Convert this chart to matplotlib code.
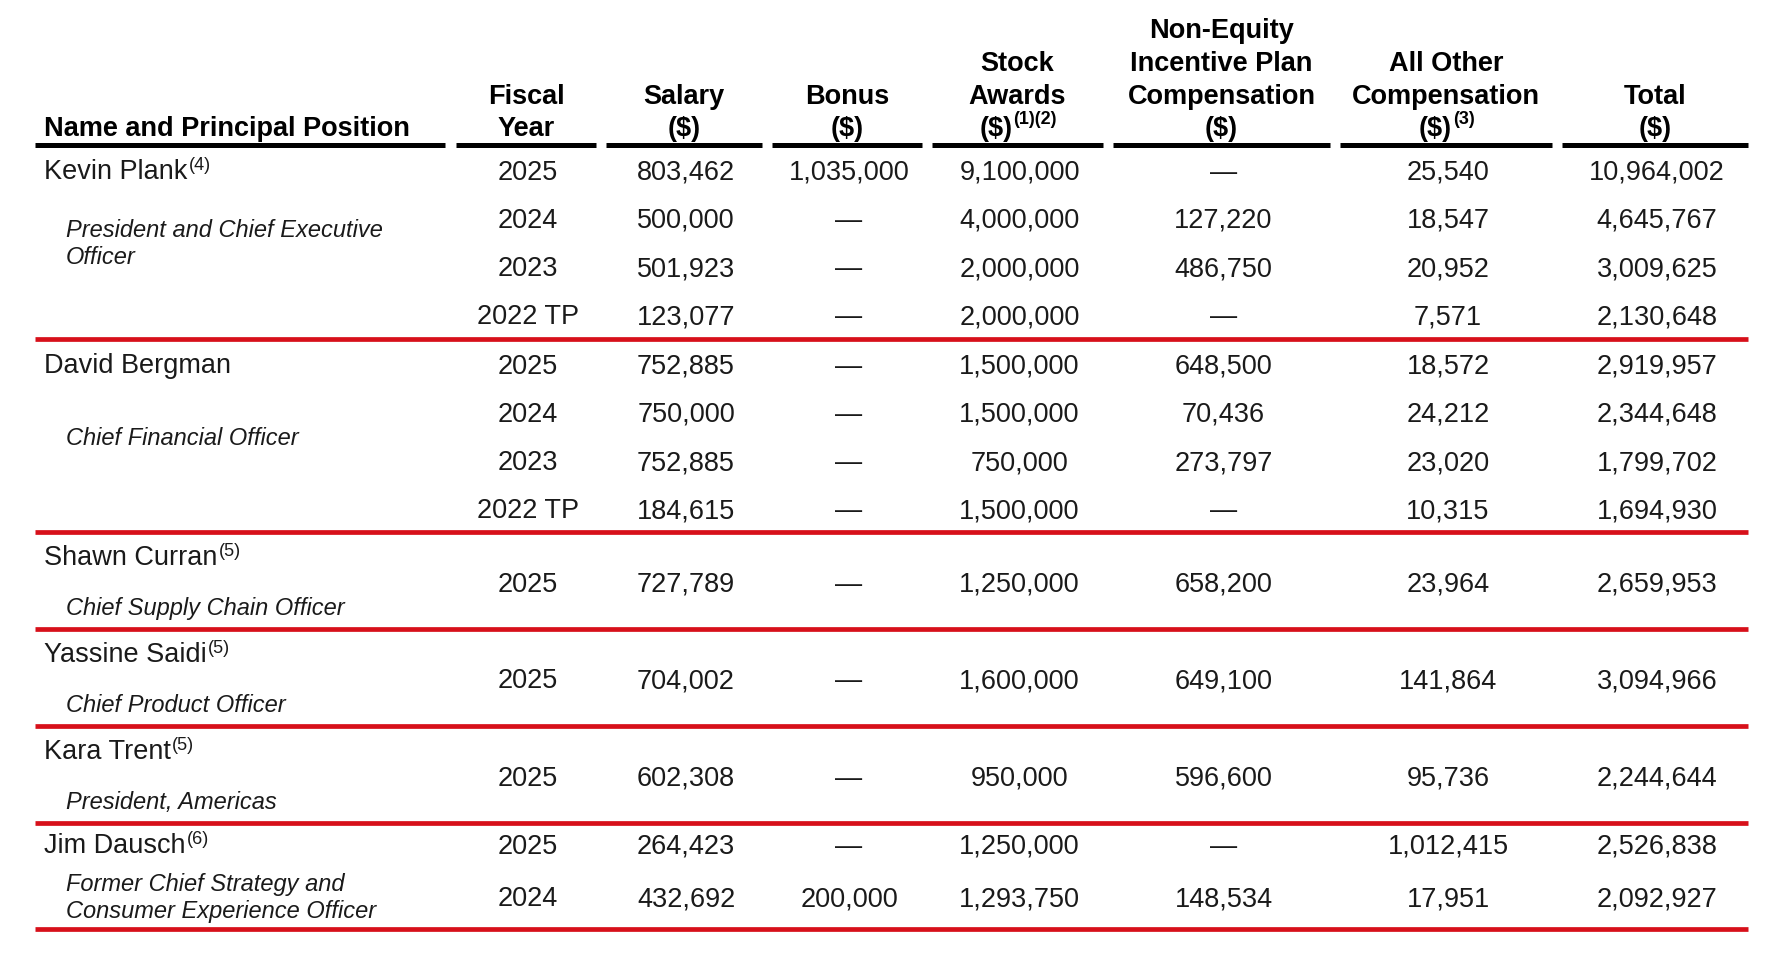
import matplotlib
matplotlib.use('Agg')
import matplotlib.pyplot as plt

plt.rcParams['font.family'] = ['Liberation Sans', 'DejaVu Sans']

# ---- table content ----
names = ['Kevin Plank', 'David Bergman', 'Shawn Curran', 'Yassine Saidi', 'Kara Trent', 'Jim Dausch']
name_notes = ['(4)', '', '(5)', '(5)', '(5)', '(6)']
titles = [['President and Chief Executive', 'Officer'],
          ['Chief Financial Officer'],
          ['Chief Supply Chain Officer'],
          ['Chief Product Officer'],
          ['President, Americas'],
          ['Former Chief Strategy and', 'Consumer Experience Officer']]
rows_per_person = [4, 4, 1, 1, 1, 2]

fiscal_year = ['2025', '2024', '2023', '2022 TP',
               '2025', '2024', '2023', '2022 TP',
               '2025', '2025', '2025', '2025', '2024']
salary = [803462, 500000, 501923, 123077, 752885, 750000, 752885, 184615,
          727789, 704002, 602308, 264423, 432692]
bonus = [1035000, None, None, None, None, None, None, None,
         None, None, None, None, 200000]
stock_awards = [9100000, 4000000, 2000000, 2000000, 1500000, 1500000, 750000, 1500000,
                1250000, 1600000, 950000, 1250000, 1293750]
non_equity = [None, 127220, 486750, None, 648500, 70436, 273797, None,
              658200, 649100, 596600, None, 148534]
all_other = [25540, 18547, 20952, 7571, 18572, 24212, 23020, 10315,
             23964, 141864, 95736, 1012415, 17951]
total = [10964002, 4645767, 3009625, 2130648, 2919957, 2344648, 1799702, 1694930,
         2659953, 3094966, 2244644, 2526838, 2092927]

name_header = 'Name and Principal Position'
col_headers = [['Fiscal', 'Year'], ['Salary', '($)'], ['Bonus', '($)'],
               ['Stock', 'Awards', '($)'],
               ['Non-Equity', 'Incentive Plan', 'Compensation', '($)'],
               ['All Other', 'Compensation', '($)'], ['Total', '($)']]
col_notes = ['', '', '', '(1)(2)', '', '(3)', '']

# ---- layout (pixels) ----
W, H = 1776, 964
col_spans = [(35, 445), (456, 596), (606, 762), (772, 922), (932, 1103),
             (1113, 1330), (1340, 1552), (1562, 1748)]
rule_y = 145
block_heights = [194, 193, 97, 97, 97, 106]
RED = '#D7101A'
INK = '#1a1a1a'

FS_HEAD, FS_DATA, FS_TITLE, FS_SUP = 19.5, 19.5, 17, 13

fig = plt.figure(figsize=(W / 100, H / 100), dpi=100)
ax = fig.add_axes([0, 0, 1, 1])
ax.set_xlim(0, W)
ax.set_ylim(H, 0)
ax.axis('off')
renderer = fig.canvas.get_renderer()


def with_note(x, y, main, note, ha, main_kw, note_kw, lift):
    t = ax.text(x, y, main, ha='left', va='baseline', **main_kw)
    if not note:
        if ha == 'center':
            t.set_ha('center')
        return
    s = ax.text(x, y - lift, note, ha='left', va='baseline', **note_kw)
    w1 = t.get_window_extent(renderer).width
    w2 = s.get_window_extent(renderer).width
    x0 = x - (w1 + w2) / 2 if ha == 'center' else x
    t.set_x(x0)
    s.set_x(x0 + w1 + 1)


def fmt(v):
    return '\u2014' if v is None else f'{v:,}'


# header
head_kw = dict(fontsize=FS_HEAD, fontweight='bold', color='black')
ax.text(44, 136, name_header, ha='left', va='baseline', **head_kw)
for (x0, x1), lines, note in zip(col_spans[1:], col_headers, col_notes):
    cx = (x0 + x1) / 2
    for k, line in enumerate(reversed(lines)):
        y = 136 - 32.5 * k
        if k == 0:
            with_note(cx, y, line, note, 'center', head_kw,
                      dict(fontsize=FS_SUP, fontweight='bold', color='black'), 12)
        else:
            ax.text(cx, y, line, ha='center', va='baseline', **head_kw)
for x0, x1 in col_spans:
    ax.plot([x0, x1], [rule_y, rule_y], color='black', lw=3.6, solid_capstyle='butt')

# body
columns = [fiscal_year, [fmt(v) for v in salary], [fmt(v) for v in bonus],
           [fmt(v) for v in stock_awards], [fmt(v) for v in non_equity],
           [fmt(v) for v in all_other], [fmt(v) for v in total]]
data_kw = dict(fontsize=FS_DATA, color=INK)
title_kw = dict(fontsize=FS_TITLE, color=INK, style='italic')

top = rule_y
r = 0
for p, n in enumerate(rows_per_person):
    h = block_heights[p]
    if n == 4:
        ys = [top + 25 + i * 48.3 for i in range(n)]
        name_y = ys[0]
        title_y = (ys[1] + ys[2]) / 2
    elif n == 2:
        ys = [top + 21 + i * 53 for i in range(n)]
        name_y = ys[0]
        title_y = ys[1] - 1
    else:
        ys = [top + h / 2 + 1.5]
        name_y = top + 24
        title_y = top + h - 23
    with_note(44, name_y + 9, names[p], name_notes[p], 'left', data_kw,
              dict(fontsize=FS_SUP, color=INK), 9)
    tl = titles[p]
    for j, line in enumerate(tl):
        ty = title_y + (j - (len(tl) - 1) / 2) * 27
        ax.text(66, ty + 8.5, line, ha='left', va='baseline', **title_kw)
    for i in range(n):
        for (x0, x1), col in zip(col_spans[1:], columns):
            ax.text((x0 + x1) / 2 + 2, ys[i] + 9.5, col[r + i],
                    ha='center', va='baseline', **data_kw)
    r += n
    top += h
    ax.plot([35, 1748], [top, top], color=RED, lw=3.4, solid_capstyle='butt')

fig.savefig('out.png', dpi=100)
